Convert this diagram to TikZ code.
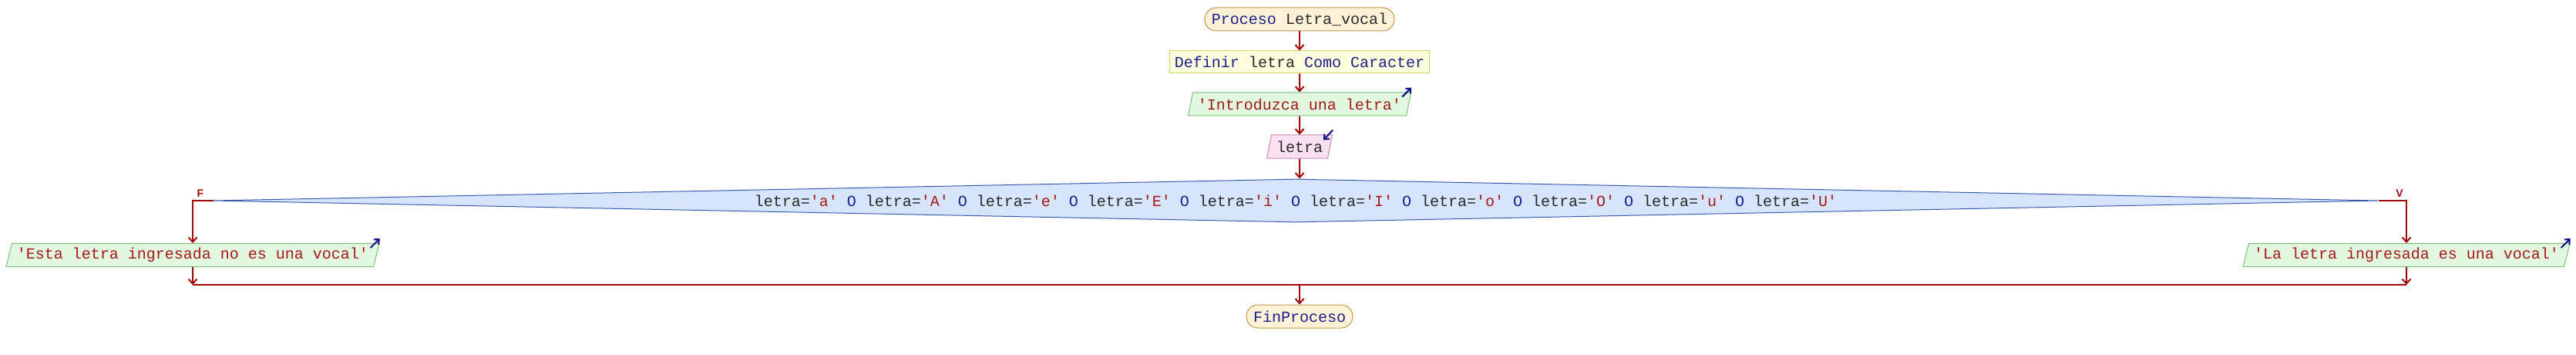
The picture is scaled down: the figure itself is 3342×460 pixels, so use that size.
\documentclass[tikz,border=0pt]{standalone}
\usepackage{fontspec}
\setmonofont{Liberation Mono}
\setsansfont{Liberation Sans}
\usetikzlibrary{shapes.geometric,arrows.meta}

\definecolor{kwblue}{RGB}{30,30,140}
\definecolor{strred}{RGB}{165,25,25}
\definecolor{idblack}{RGB}{40,40,40}
\definecolor{flowred}{RGB}{160,10,10}
\definecolor{iconblue}{RGB}{10,10,130}
\definecolor{termfill}{RGB}{255,242,214}
\definecolor{termline}{RGB}{190,150,80}
\definecolor{deffill}{RGB}{255,255,221}
\definecolor{defline}{RGB}{215,210,100}
\definecolor{outfill}{RGB}{226,247,224}
\definecolor{outline}{RGB}{125,190,125}
\definecolor{infill}{RGB}{250,224,240}
\definecolor{inline}{RGB}{200,140,175}
\definecolor{condfill}{RGB}{214,228,252}
\definecolor{condline}{RGB}{60,90,170}

\newcommand{\vcmp}[1]{letra=\textcolor{strred}{'#1'}}
\newcommand{\vor}{\ \textcolor{kwblue}{O}\ }

\begin{document}
\begin{tikzpicture}[x=0.5pt, y=-0.5pt]
	% Define styles
	\tikzstyle{terminal} = [rectangle, rounded corners=7.5pt, minimum height=15pt, inner xsep=4.5pt, inner ysep=0pt, draw=termline, fill=termfill, line width=0.5pt, font=\ttfamily, text=kwblue]
	\tikzstyle{definebox} = [rectangle, minimum height=14.5pt, inner xsep=3pt, inner ysep=0pt, draw=defline, fill=deffill, line width=0.5pt, font=\ttfamily, text=kwblue]
	\tikzstyle{outbox} = [trapezium, trapezium left angle=68, trapezium right angle=112, trapezium stretches body, minimum height=15pt, inner xsep=3.25pt, inner ysep=0pt, draw=outline, fill=outfill, line width=0.5pt, font=\ttfamily, text=strred]
	\tikzstyle{inbox} = [outbox, draw=inline, fill=infill, text=idblack]
	\tikzstyle{condbox} = [diamond, aspect=50, minimum width=1404pt, minimum height=28pt, inner sep=0pt, draw=condline, fill=condfill, line width=0.5pt, font=\ttfamily, text=idblack]
	\tikzstyle{branchlabel} = [font=\fontsize{7}{8}\selectfont\sffamily\bfseries, text=flowred, inner sep=0pt]
	\tikzstyle{line} = [draw=flowred, line width=1pt]
	\tikzstyle{arrow} = [line, ->, >={Straight Barb[length=3pt, width=5.5pt]}]
	\tikzstyle{iconarrow} = [draw=iconblue, line width=1pt, ->, >={Straight Barb[length=2.5pt, width=4.5pt]}]

	\useasboundingbox (0,0) rectangle (3342,460);

	% Nodes
	\node (start) [terminal] at (1686,25) {Proceso \textcolor{idblack}{Letra\_vocal}};
	\node (define) [definebox] at (1686,80.5) {Definir \textcolor{idblack}{letra} Como Caracter};
	\node (outI) [outbox] at (1686,135) {'Introduzca una letra'};
	\node (inL) [inbox] at (1686,190) {letra};
	\node (cond) [condbox] at (1681,260) {\vcmp{a}\vor\vcmp{A}\vor\vcmp{e}\vor\vcmp{E}\vor\vcmp{i}\vor\vcmp{I}\vor\vcmp{o}\vor\vcmp{O}\vor\vcmp{u}\vor\vcmp{U}};
	\node (outF) [outbox] at (250,330.5) {'Esta letra ingresada no es una vocal'};
	\node (outV) [outbox] at (3122,330.5) {'La letra ingresada es una vocal'};
	\node (fin) [terminal] at (1686,410) {FinProceso};
	\node (lblF) [branchlabel] at (260,251) {F};
	\node (lblV) [branchlabel] at (3113,251) {V};
	\coordinate (joinF) at (250,369);
	\coordinate (joinV) at (3122,369);
	\coordinate (join) at (1686,369);

	% Arrows
	\draw [arrow] (start) -- (define);
	\draw [arrow] (define) -- (outI);
	\draw [arrow] (outI) -- (inL);
	\draw [arrow] (inL) -- (inL |- cond.north);
	\draw [arrow] (cond.west) -| (outF);
	\draw [arrow] (cond.east) -| (outV);
	\draw [arrow] (outF) -- (joinF);
	\draw [arrow] (outV) -- (joinV);
	\draw [line] (joinF) -- (joinV);
	\draw [arrow] (join) -- (fin);

	% In/out marks
	\draw [iconarrow] ([shift={(-12,6)}]outI.top right corner) -- ([shift={(0,-6)}]outI.top right corner);
	\draw [iconarrow] ([shift={(-12,6)}]outF.top right corner) -- ([shift={(0,-6)}]outF.top right corner);
	\draw [iconarrow] ([shift={(-12,6)}]outV.top right corner) -- ([shift={(0,-6)}]outV.top right corner);
	\draw [iconarrow] ([shift={(0,-6)}]inL.top right corner) -- ([shift={(-12,7)}]inL.top right corner);
\end{tikzpicture}
\end{document}
